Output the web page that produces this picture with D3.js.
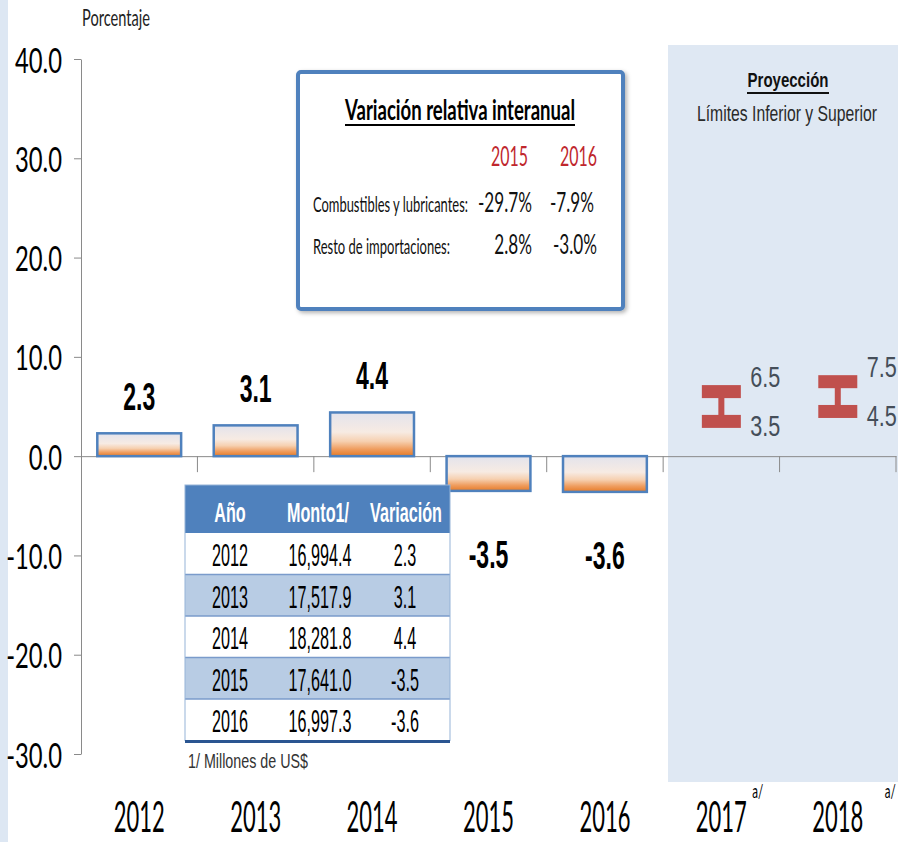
<!DOCTYPE html>
<html><head><meta charset="utf-8">
<script src="https://cdn.jsdelivr.net/npm/d3@7"></script>
<style>html,body{margin:0;padding:0;background:#fff;} svg{display:block}</style>
</head><body><svg id="c" width="898" height="842"></svg>
<script>
// ---------------- DATA ----------------
const years = ["2012","2013","2014","2015","2016","2017","2018"];
const actualYears = ["2012","2013","2014","2015","2016"];
const actualValues = [2.3, 3.1, 4.4, -3.5, -3.6];
const projYears = ["2017","2018"];
const projLow = [3.5, 4.5];
const projHigh = [6.5, 7.5];
const projMarks = ["a/","a/"];
const yTicks = [40, 30, 20, 10, 0, -10, -20, -30];
const tableHeaders = ["Año","Monto1/","Variación"];
const tableYears = ["2012","2013","2014","2015","2016"];
const tableMonto = ["16,994.4","17,517.9","18,281.8","17,641.0","16,997.3"];
const tableVar = ["2.3","3.1","4.4","-3.5","-3.6"];
const insetTitle = "Variación relativa interanual";
const insetYears = ["2015","2016"];
const insetRowLabels = ["Combustibles y lubricantes:","Resto de importaciones:"];
const insetCombustibles = ["-29.7%","-7.9%"];
const insetResto = ["2.8%","-3.0%"];
const yAxisTitle = "Porcentaje";
const projTitle = "Proyección";
const projSubtitle = "Límites Inferior y Superior";
const tableNote = "1/ Millones de US$";

// ---------------- SETUP ----------------
const svg = d3.select('#c');
const CAL = "Lato, 'Open Sans', sans-serif";
const NAR = "'Liberation Sans', Arial, sans-serif";

function measure(str, fs, fam, weight) {
  const t = svg.append('text').attr('font-size', fs).attr('font-family', fam)
    .attr('font-weight', weight || 'normal').text(str);
  const l = t.node().getComputedTextLength();
  t.remove();
  return l;
}
function fit(str, capH, w, fam, weight) {
  const fs = capH / 0.716;
  return { fs, sx: w / measure(str, fs, fam, weight) };
}
function put(g, str, x, y, f, fam, opts) {
  opts = opts || {};
  return g.append('text')
    .attr('transform', `translate(${x},${y}) scale(${f.sx},1)`)
    .attr('font-size', f.fs).attr('font-family', fam)
    .attr('font-weight', opts.weight || 'normal')
    .attr('text-anchor', opts.anchor || 'start')
    .attr('fill', opts.fill || '#000')
    .text(str);
}

const x = d3.scaleBand().domain(years).range([81, 896]).paddingInner(0.28).paddingOuter(0.14);
const y = d3.scaleLinear().domain([-30, 40]).range([754, 59]);
const step = x.step();
const bw = x.bandwidth();

// defs
const defs = svg.append('defs');
const grad = defs.append('linearGradient').attr('id', 'barGrad')
  .attr('x1', 0).attr('y1', 0).attr('x2', 0).attr('y2', 1);
[[0, '#e3e3ec'], [0.45, '#f7ebe3'], [0.66, '#f6d0b0'], [0.84, '#ef9d5f'], [1, '#e67a26']]
  .forEach(([o, c]) => grad.append('stop').attr('offset', o).attr('stop-color', c));
const sh = defs.append('filter').attr('id', 'shadow').attr('x', '-5%').attr('y', '-5%').attr('width', '115%').attr('height', '115%');
sh.append('feDropShadow').attr('dx', 2).attr('dy', 2).attr('stdDeviation', 2).attr('flood-color', '#000').attr('flood-opacity', 0.3);

// background strips
svg.append('rect').attr('x', 0).attr('y', 0).attr('width', 8).attr('height', 842).attr('fill', '#dde7f3');
svg.append('rect').attr('x', 668).attr('y', 45).attr('width', 230).attr('height', 737).attr('fill', '#dfe8f3');

// y axis
const yAxisG = svg.append('g').attr('transform', 'translate(81,0)')
  .call(d3.axisLeft(y).tickValues(yTicks).tickSize(7).tickSizeOuter(0).tickFormat(d => d.toFixed(1)));
yAxisG.selectAll('path,line').attr('stroke', '#8a8a8a');
const fTick = fit("40.0", 25, 47, CAL);
yAxisG.selectAll('text')
  .attr('x', null).attr('dy', null)
  .attr('transform', `translate(-19,13) scale(${fTick.sx},1)`)
  .attr('font-size', fTick.fs).attr('font-family', CAL).attr('fill', '#000');

// x axis
const y0 = y(0);
const xAxisG = svg.append('g').attr('transform', `translate(0,${y0})`)
  .call(d3.axisBottom(x).tickSize(0).tickSizeOuter(0));
xAxisG.select('.domain').attr('stroke', '#8a8a8a');
const fX = fit("2012", 31, 51, CAL);
xAxisG.selectAll('text')
  .attr('y', null).attr('dy', null)
  .attr('transform', `translate(0,${832 - y0}) scale(${fX.sx},1)`)
  .attr('font-size', fX.fs).attr('font-family', CAL).attr('fill', '#000');
// category boundary ticks
svg.append('g').selectAll('line').data(years).join('line')
  .attr('x1', (d) => x(d) - x.paddingInner() * step / 2 + step)
  .attr('x2', (d) => x(d) - x.paddingInner() * step / 2 + step)
  .attr('y1', y0).attr('y2', y0 + 16).attr('stroke', '#8a8a8a');

// superscripts a/
const fA = fit("a/", 14, 11, CAL);
const aOff = [31, 47];
projYears.forEach((p, i) => put(svg, projMarks[i], x(p) + bw / 2 + aOff[i], 798, fA, CAL));

// y title
put(svg, yAxisTitle, 82, 26, fit(yAxisTitle, 16, 68, CAL), CAL, { fill: '#222' });

// bars
const barData = actualYears.map((yr, i) => ({ yr, v: actualValues[i] }));
svg.append('g').selectAll('rect').data(barData).join('rect')
  .attr('x', d => x(d.yr)).attr('width', bw)
  .attr('y', d => Math.min(y(d.v), y0))
  .attr('height', d => Math.abs(y(d.v) - y0))
  .attr('fill', 'url(#barGrad)').attr('stroke', '#4f81bd').attr('stroke-width', 2.5);

// value labels
const fV = fit("2.3", 28, 32, NAR, 'bold');
const lblG = svg.append('g');
barData.forEach(d => {
  const by = d.v >= 0 ? y(d.v) - 23 : y(d.v) + 77;
  put(lblG, d.v.toFixed(1), x(d.yr) + bw / 2, by, fV, NAR, { weight: 'bold', anchor: 'middle' });
});

// projection error bars
const red = '#c0504d';
const pg = svg.append('g');
const fP = fit("6.5", 21, 30, NAR);
projYears.forEach((p, i) => {
  const cx = x(p) + bw / 2;
  const yh = y(projHigh[i]), yl = y(projLow[i]);
  pg.append('rect').attr('x', cx - 3).attr('y', yh).attr('width', 6).attr('height', yl - yh).attr('fill', red);
  pg.append('rect').attr('x', cx - 19.5).attr('y', yh - 6.5).attr('width', 39).attr('height', 13).attr('fill', red);
  pg.append('rect').attr('x', cx - 19.5).attr('y', yl - 6.5).attr('width', 39).attr('height', 13).attr('fill', red);
  put(pg, projHigh[i].toFixed(1), cx + 29, yh - 5, fP, NAR, { fill: '#454e59' });
  put(pg, projLow[i].toFixed(1), cx + 29, yl + 15, fP, NAR, { fill: '#454e59' });
});

// projection title
const fPT = fit(projTitle, 15, 81, NAR, 'bold');
put(svg, projTitle, 788, 87, fPT, NAR, { weight: 'bold', anchor: 'middle', fill: '#111' });
svg.append('line').attr('x1', 747).attr('x2', 829).attr('y1', 93).attr('y2', 93).attr('stroke', '#111').attr('stroke-width', 2);
put(svg, projSubtitle, 787, 121, fit(projSubtitle, 16, 180, NAR), NAR, { anchor: 'middle', fill: '#2a2a2a' });

// inset box
const ig = svg.append('g');
ig.append('rect').attr('x', 298).attr('y', 72).attr('width', 325).attr('height', 237).attr('rx', 3)
  .attr('fill', '#fff').attr('stroke', '#4f81bd').attr('stroke-width', 4).attr('filter', 'url(#shadow)');
put(ig, insetTitle, 460, 120, fit(insetTitle, 20, 230, CAL, 'bold'), CAL, { weight: 'bold', anchor: 'middle' });
ig.append('line').attr('x1', 345).attr('x2', 575).attr('y1', 125).attr('y2', 125).attr('stroke', '#000').attr('stroke-width', 2);
const fIY = fit("2015", 19, 37, CAL);
const colEnds = [528, 597];
insetYears.forEach((yr, i) => put(ig, yr, colEnds[i], 166, fIY, CAL, { anchor: 'end', fill: '#c0272d' }));
const rowBase = [212, 254];
insetRowLabels.forEach((lab, i) => put(ig, lab, 313, rowBase[i], fit(lab, 15, i === 0 ? 155 : 137, CAL), CAL, { fill: '#111' }));
const fIV = fit("-29.7%", 19, 54, CAL);
[insetCombustibles, insetResto].forEach((row, r) => {
  row.forEach((v, c) => put(ig, v, [532, 594][c] + (r === 1 ? [0, 3][c] : 0), rowBase[r], fIV, CAL, { anchor: 'end', fill: '#111' }));
});

// data table
const tg = svg.append('g');
const tL = 185, tR = 450, hTop = 485, hBot = 533, rowH = 41.5;
tg.append('rect').attr('x', tL).attr('y', hTop).attr('width', tR - tL).attr('height', hBot - hTop).attr('fill', '#4f81bd');
const colX = [230, 320, 405];
tableYears.forEach((yr, i) => {
  const top = hBot + i * rowH;
  tg.append('rect').attr('x', tL).attr('y', top).attr('width', tR - tL).attr('height', rowH)
    .attr('fill', i % 2 === 1 ? '#b8cce4' : '#fff');
});
tableYears.forEach((yr, i) => {
  if (i === 0) return;
  const top = hBot + i * rowH;
  tg.append('line').attr('x1', tL).attr('x2', tR).attr('y1', top).attr('y2', top).attr('stroke', '#7a9bcb').attr('stroke-width', 1.5);
});
tg.append('rect').attr('x', tL).attr('y', hTop).attr('width', tR - tL).attr('height', hBot - hTop + rowH * 5)
  .attr('fill', 'none').attr('stroke', '#95b3d7').attr('stroke-width', 1);
tg.append('line').attr('x1', tL).attr('x2', tR).attr('y1', hBot + rowH * 5 + 1).attr('y2', hBot + rowH * 5 + 1)
  .attr('stroke', '#2a5591').attr('stroke-width', 3);
const fH = fit("Variación", 20, 72, NAR, 'bold');
tableHeaders.forEach((h, c) => put(tg, h, colX[c] + (c === 2 ? 1 : 0) - (c === 1 ? 2 : 0), 522, fH, NAR, { anchor: 'middle', fill: '#fff', weight: 'bold' }));
const fR = fit("2012", 22, 36, NAR);
tableYears.forEach((yr, i) => {
  const b = hBot + i * rowH + 33;
  [yr, tableMonto[i], tableVar[i]].forEach((s, c) => put(tg, s, colX[c], b, fR, NAR, { anchor: 'middle', fill: '#000' }));
});
put(svg, tableNote, 188, 768, fit(tableNote, 15, 120, NAR), NAR, { fill: '#333' });
</script>
</body></html>
